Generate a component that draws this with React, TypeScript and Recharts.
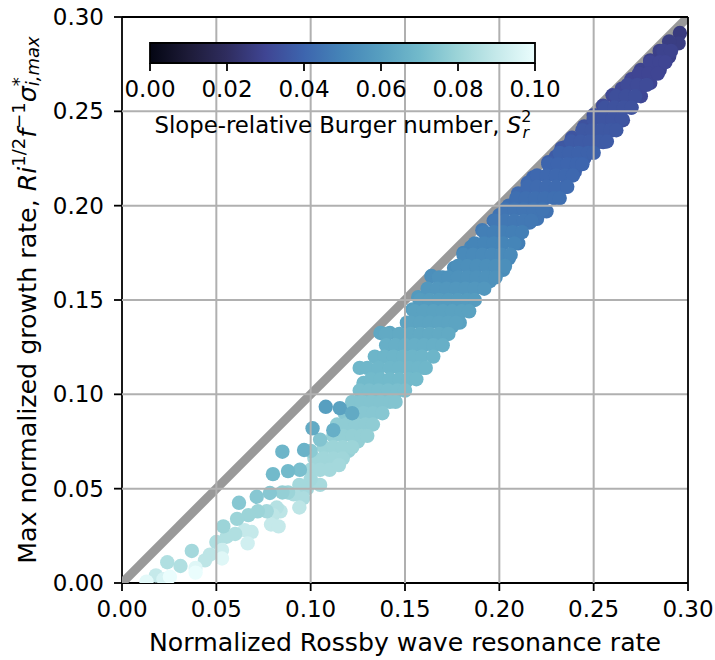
import React from "react";
import { ComposedChart, ScatterChart, Scatter, XAxis, YAxis, ReferenceLine, ReferenceArea, Area, Label } from "recharts";

type P = [number, number, number];
type Row = [number, number, number[]];

const axisTicks = [0, 0.05, 0.1, 0.15, 0.2, 0.25, 0.3];
const gridTicks = [0.05, 0.1, 0.15, 0.2, 0.25];
const colorbarTicks = [0, 0.02, 0.04, 0.06, 0.08, 0.1];
const colorStops: [number, string][] = [
  [0, "#040613"], [0.1, "#1d1b38"], [0.2, "#2f2d5f"], [0.3, "#3f4593"], [0.4, "#3d65ae"],
  [0.5, "#4585b8"], [0.6, "#579fc0"], [0.7, "#72bacb"], [0.8, "#9cd4d8"], [0.9, "#c5e9ea"], [1, "#eafdfd"],
];
const diagonal = [{ x: 0, y: 0 }, { x: 0.3, y: 0.3 }];
const colorbarData = [{ s: 0, v: 1 }, { s: 0.1, v: 1 }];

const upperBand: P[] = [
  [0.2957, 0.2915, 0.026], [0.295, 0.286, 0.027], [0.29, 0.287, 0.027], [0.29, 0.279, 0.028], [0.285, 0.282, 0.028], [0.285, 0.272, 0.029],
  [0.28, 0.277, 0.028], [0.28, 0.265, 0.03], [0.275, 0.272, 0.029], [0.275, 0.258, 0.031],
  [0.27, 0.267, 0.03], [0.27, 0.252, 0.033], [0.265, 0.262, 0.031], [0.2655, 0.2453, 0.033],
  [0.26, 0.2585, 0.031], [0.26, 0.24, 0.034], [0.255, 0.253, 0.032], [0.255, 0.2337, 0.036],
  [0.25, 0.248, 0.033], [0.25, 0.232, 0.036], [0.2464, 0.2295, 0.037], [0.245, 0.242, 0.034], [0.245, 0.225, 0.038],
  [0.2385, 0.236, 0.035], [0.24, 0.218, 0.039], [0.235, 0.231, 0.036], [0.235, 0.21, 0.041],
  [0.233, 0.2305, 0.036], [0.23, 0.226, 0.037], [0.23, 0.205, 0.042], [0.226, 0.223, 0.038], [0.225, 0.197, 0.044],
  [0.218, 0.215, 0.04], [0.22, 0.193, 0.045], [0.215, 0.212, 0.041], [0.216, 0.191, 0.046],
  [0.21, 0.2065, 0.042], [0.21, 0.18, 0.048], [0.205, 0.2, 0.043], [0.205, 0.172, 0.051],
  [0.2, 0.195, 0.044], [0.202, 0.166, 0.053], [0.197, 0.192, 0.045], [0.195, 0.16, 0.055],
];
const middleBand: P[] = [
  [0.191, 0.187, 0.047], [0.19, 0.16, 0.055], [0.185, 0.178, 0.05], [0.185, 0.15, 0.058],
  [0.181, 0.175, 0.05], [0.179, 0.138, 0.061], [0.176, 0.167, 0.053], [0.175, 0.136, 0.062],
  [0.17, 0.162, 0.054], [0.17, 0.135, 0.062], [0.164, 0.1627, 0.054], [0.165, 0.127, 0.064],
  [0.16, 0.114, 0.068], [0.157, 0.1515, 0.058], [0.155, 0.115, 0.068], [0.154, 0.145, 0.06],
  [0.151, 0.138, 0.062], [0.15, 0.106, 0.07], [0.145, 0.102, 0.072], [0.142, 0.1325, 0.063], [0.137, 0.1325, 0.063],
  [0.14, 0.098, 0.073], [0.135, 0.093, 0.074], [0.133, 0.112, 0.069], [0.126, 0.114, 0.069],
  [0.13, 0.084, 0.077], [0.128, 0.106, 0.07], [0.125, 0.075, 0.078], [0.12, 0.07, 0.079],
];
const fillRows: Row[] = [
  [0.282, 0.029, [0.287, 0.291]],
  [0.276, 0.03, [0.28, 0.285, 0.288]],
  [0.27, 0.03, [0.274, 0.279, 0.284]],
  [0.264, 0.032, [0.268, 0.273, 0.278]],
  [0.258, 0.033, [0.262, 0.267, 0.272]],
  [0.252, 0.034, [0.256, 0.261, 0.266, 0.27]],
  [0.246, 0.035, [0.25, 0.255, 0.26, 0.265]],
  [0.24, 0.036, [0.244, 0.249, 0.254, 0.259, 0.262]],
  [0.234, 0.037, [0.238, 0.243, 0.248, 0.253, 0.257]],
  [0.228, 0.039, [0.232, 0.237, 0.242, 0.247, 0.25]],
  [0.222, 0.04, [0.226, 0.231, 0.236, 0.241, 0.244]],
  [0.216, 0.041, [0.22, 0.225, 0.23, 0.235, 0.239]],
  [0.21, 0.042, [0.215, 0.22, 0.225, 0.23, 0.236]],
  [0.204, 0.043, [0.209, 0.214, 0.219, 0.224, 0.229, 0.232]],
  [0.198, 0.045, [0.203, 0.208, 0.213, 0.218, 0.223]],
  [0.192, 0.046, [0.198, 0.203, 0.208, 0.213, 0.217]],
  [0.186, 0.048, [0.192, 0.197, 0.202, 0.207, 0.212]],
  [0.18, 0.05, [0.187, 0.192, 0.197, 0.202, 0.208]],
  [0.174, 0.052, [0.181, 0.186, 0.191, 0.196, 0.201, 0.206]],
  [0.168, 0.054, [0.178, 0.183, 0.188, 0.193, 0.198, 0.203]],
  [0.162, 0.055, [0.168, 0.173, 0.178, 0.183, 0.188, 0.193, 0.198]],
  [0.156, 0.057, [0.162, 0.167, 0.172, 0.177, 0.182, 0.187, 0.192]],
  [0.15, 0.059, [0.158, 0.163, 0.168, 0.173, 0.178, 0.183, 0.187]],
  [0.144, 0.061, [0.155, 0.16, 0.165, 0.17, 0.175, 0.18, 0.184]],
  [0.138, 0.062, [0.153, 0.158, 0.163, 0.168, 0.173, 0.177]],
  [0.132, 0.064, [0.14, 0.147, 0.153, 0.158, 0.163, 0.168, 0.173]],
  [0.126, 0.066, [0.14, 0.145, 0.15, 0.155, 0.16, 0.165, 0.17]],
  [0.12, 0.068, [0.134, 0.139, 0.144, 0.149, 0.154, 0.159, 0.165]],
  [0.114, 0.069, [0.13, 0.136, 0.142, 0.147, 0.152, 0.157, 0.161]],
  [0.108, 0.07, [0.132, 0.137, 0.142, 0.147, 0.152, 0.156]],
  [0.102, 0.072, [0.126, 0.131, 0.136, 0.141, 0.146, 0.15]],
  [0.096, 0.074, [0.122, 0.127, 0.132, 0.137, 0.142, 0.145]],
  [0.09, 0.075, [0.118, 0.123, 0.128, 0.133, 0.138]],
  [0.084, 0.077, [0.114, 0.119, 0.124, 0.129, 0.133]],
  [0.078, 0.078, [0.112, 0.117, 0.122, 0.127, 0.13]],
  [0.072, 0.08, [0.107, 0.112, 0.117, 0.122]],
  [0.066, 0.081, [0.102, 0.107, 0.112, 0.117]],
  [0.06, 0.082, [0.1, 0.105, 0.11]],
];
const lowerBand: P[] = [
  [0.115, 0.0625, 0.082], [0.108, 0.0934, 0.06], [0.1155, 0.0927, 0.061], [0.122, 0.09, 0.064], [0.112, 0.081, 0.066],
  [0.105, 0.076, 0.074], [0.101, 0.082, 0.064], [0.1, 0.07, 0.076], [0.105, 0.052, 0.083],
  [0.1, 0.055, 0.082], [0.0965, 0.0705, 0.067], [0.0943, 0.06, 0.072],
  [0.098, 0.05, 0.082], [0.096, 0.045, 0.084], [0.094, 0.052, 0.082], [0.094, 0.04, 0.088], [0.091, 0.047, 0.084], [0.088, 0.0593, 0.07],
  [0.088, 0.048, 0.08], [0.085, 0.0696, 0.068], [0.085, 0.048, 0.078], [0.084, 0.038, 0.088], [0.08, 0.0577, 0.07], [0.082, 0.04, 0.086],
  [0.08, 0.036, 0.088], [0.079, 0.031, 0.09], [0.0784, 0.0477, 0.075], [0.083, 0.03, 0.09], [0.0767, 0.038, 0.082], [0.0714, 0.0457, 0.075],
  [0.072, 0.038, 0.08], [0.0687, 0.027, 0.09], [0.067, 0.036, 0.08], [0.065, 0.028, 0.09], [0.0666, 0.021, 0.093], [0.062, 0.0425, 0.075],
  [0.061, 0.034, 0.08], [0.06, 0.026, 0.085], [0.0555, 0.0245, 0.085], [0.0537, 0.03, 0.08], [0.05, 0.0217, 0.085], [0.053, 0.0175, 0.092], [0.053, 0.013, 0.097],
  [0.0466, 0.015, 0.088], [0.044, 0.012, 0.088], [0.037, 0.017, 0.082], [0.039, 0.008, 0.097], [0.039, 0.0055, 0.1],
  [0.031, 0.009, 0.085], [0.024, 0.011, 0.085], [0.018, 0.004, 0.09], [0.022, 0.002, 0.095], [0.0254, 0.0033, 0.1], [0.013, 0.0007, 0.098],
];

const rowPoints: P[] = fillRows.flatMap(([y, s, xs]) => xs.map((x): P => [x, y, s]));
const points = [...upperBand, ...middleBand, ...rowPoints, ...lowerBand].map(([x, y, s]) => ({ x, y, s }));

function cmap(s: number): string {
  const t = Math.min(1, Math.max(0, s / 0.1));
  let i = 0;
  while (i < colorStops.length - 2 && t > colorStops[i + 1][0]) i++;
  const [t0, c0] = colorStops[i];
  const [t1, c1] = colorStops[i + 1];
  const f = (t - t0) / (t1 - t0);
  const ch = (c: string, k: number) => parseInt(c.slice(1 + k * 2, 3 + k * 2), 16);
  const m = [0, 1, 2].map((k) => Math.round(ch(c0, k) + (ch(c1, k) - ch(c0, k)) * f));
  return `rgb(${m[0]},${m[1]},${m[2]})`;
}

const FONT = "'DejaVu Sans', sans-serif";
const tickStyle = { fontFamily: FONT, fontSize: 23, fill: "#000" };
const fmt = (v: number) => v.toFixed(2);

const Dot = (props: any) => <circle cx={props.cx} cy={props.cy} r={7.2} fill={cmap(props.payload.s)} />;

const YTitle = () => (
  <text x={27} y={300} transform="rotate(-90 27 300)" dominantBaseline="central" textAnchor="middle" fontFamily={FONT} fontSize={25.3} fill="#000">
    Max normalized growth rate, <tspan fontStyle="italic">Ri</tspan>
    <tspan dy={-9} fontSize={18}>1/2</tspan>
    <tspan dy={9} fontStyle="italic">f</tspan>
    <tspan dy={-9} fontSize={18}>−1</tspan>
    <tspan dy={9} fontStyle="italic">σ</tspan>
    <tspan dy={-9} fontSize={18}>*</tspan>
    <tspan dy={14} dx={-9} fontSize={18} fontStyle="italic">i,max</tspan>
  </text>
);

export default function App() {
  return (
    <div style={{ position: "absolute", left: 0, top: 0, width: 715, height: 660, background: "#fff" }}>
      <ScatterChart width={715} height={660} margin={{ left: 0, top: 17, right: 27, bottom: 0 }}>
        <XAxis
          type="number" dataKey="x" domain={[0, 0.3]} ticks={axisTicks} tickFormatter={fmt} allowDataOverflow
          height={77} stroke="#000" strokeWidth={1.8} tick={tickStyle} tickSize={8} tickMargin={10} interval={0}
        >
          <Label position="insideBottom" offset={9} value="Normalized Rossby wave resonance rate" style={{ fontFamily: FONT, fontSize: 25.2, fill: "#000" }} />
        </XAxis>
        <YAxis
          type="number" dataKey="y" domain={[0, 0.3]} ticks={axisTicks} tickFormatter={fmt} allowDataOverflow
          width={122} stroke="#000" strokeWidth={1.8} tick={tickStyle} tickSize={8} tickMargin={10} interval={0}
        >
          <Label content={<YTitle />} />
        </YAxis>
        <Scatter data={diagonal} line={{ stroke: "#999999", strokeWidth: 9 }} shape={() => null} isAnimationActive={false} />
        <Scatter data={points} shape={<Dot />} isAnimationActive={false} />
        {gridTicks.map((t) => <ReferenceLine key={`gx${t}`} x={t} stroke="#b0b0b0" strokeWidth={2} zIndex={700} />)}
        {gridTicks.map((t) => <ReferenceLine key={`gy${t}`} y={t} stroke="#b0b0b0" strokeWidth={2} zIndex={700} />)}
        <ReferenceLine x={0.3} stroke="#000" strokeWidth={1.8} zIndex={700} />
        <ReferenceLine y={0.3} stroke="#000" strokeWidth={1.8} zIndex={700} />
      </ScatterChart>
      <div style={{ position: "absolute", left: 100, top: 30, width: 500, height: 110 }}>
        <ComposedChart width={500} height={110} data={colorbarData} margin={{ left: 50, right: 65, top: 13, bottom: 0 }}>
          <defs>
            <linearGradient id="iceGradient" x1="0" y1="0" x2="1" y2="0">
              {colorStops.map(([o, c]) => <stop key={o} offset={o} stopColor={c} />)}
            </linearGradient>
          </defs>
          <XAxis
            type="number" dataKey="s" domain={[0, 0.1]} ticks={colorbarTicks} tickFormatter={fmt} height={77}
            stroke="#000" strokeWidth={1.8} tick={tickStyle} tickSize={8} tickMargin={10} interval={0}
            axisLine={false}
          />
          <YAxis hide domain={[0, 1]} />
          <Area dataKey="v" type="linear" stroke="none" fill="url(#iceGradient)" fillOpacity={1} isAnimationActive={false} dot={false} activeDot={false} />
          <ReferenceArea x1={0} x2={0.1} y1={0} y2={1} fill="none" stroke="#000" strokeWidth={1.8} />
        </ComposedChart>
        <svg width={500} height={110} style={{ position: "absolute", left: 0, top: 0, overflow: "visible" }}>
          <text x={243} y={95} textAnchor="middle" dominantBaseline="central" fontFamily={FONT} fontSize={22.8} fill="#000">
            Slope-relative Burger number, <tspan fontStyle="italic">S</tspan>
            <tspan dy={-9} fontSize={16}>2</tspan>
            <tspan dy={16} dx={-9} fontSize={16} fontStyle="italic">r</tspan>
          </text>
        </svg>
      </div>
    </div>
  );
}
